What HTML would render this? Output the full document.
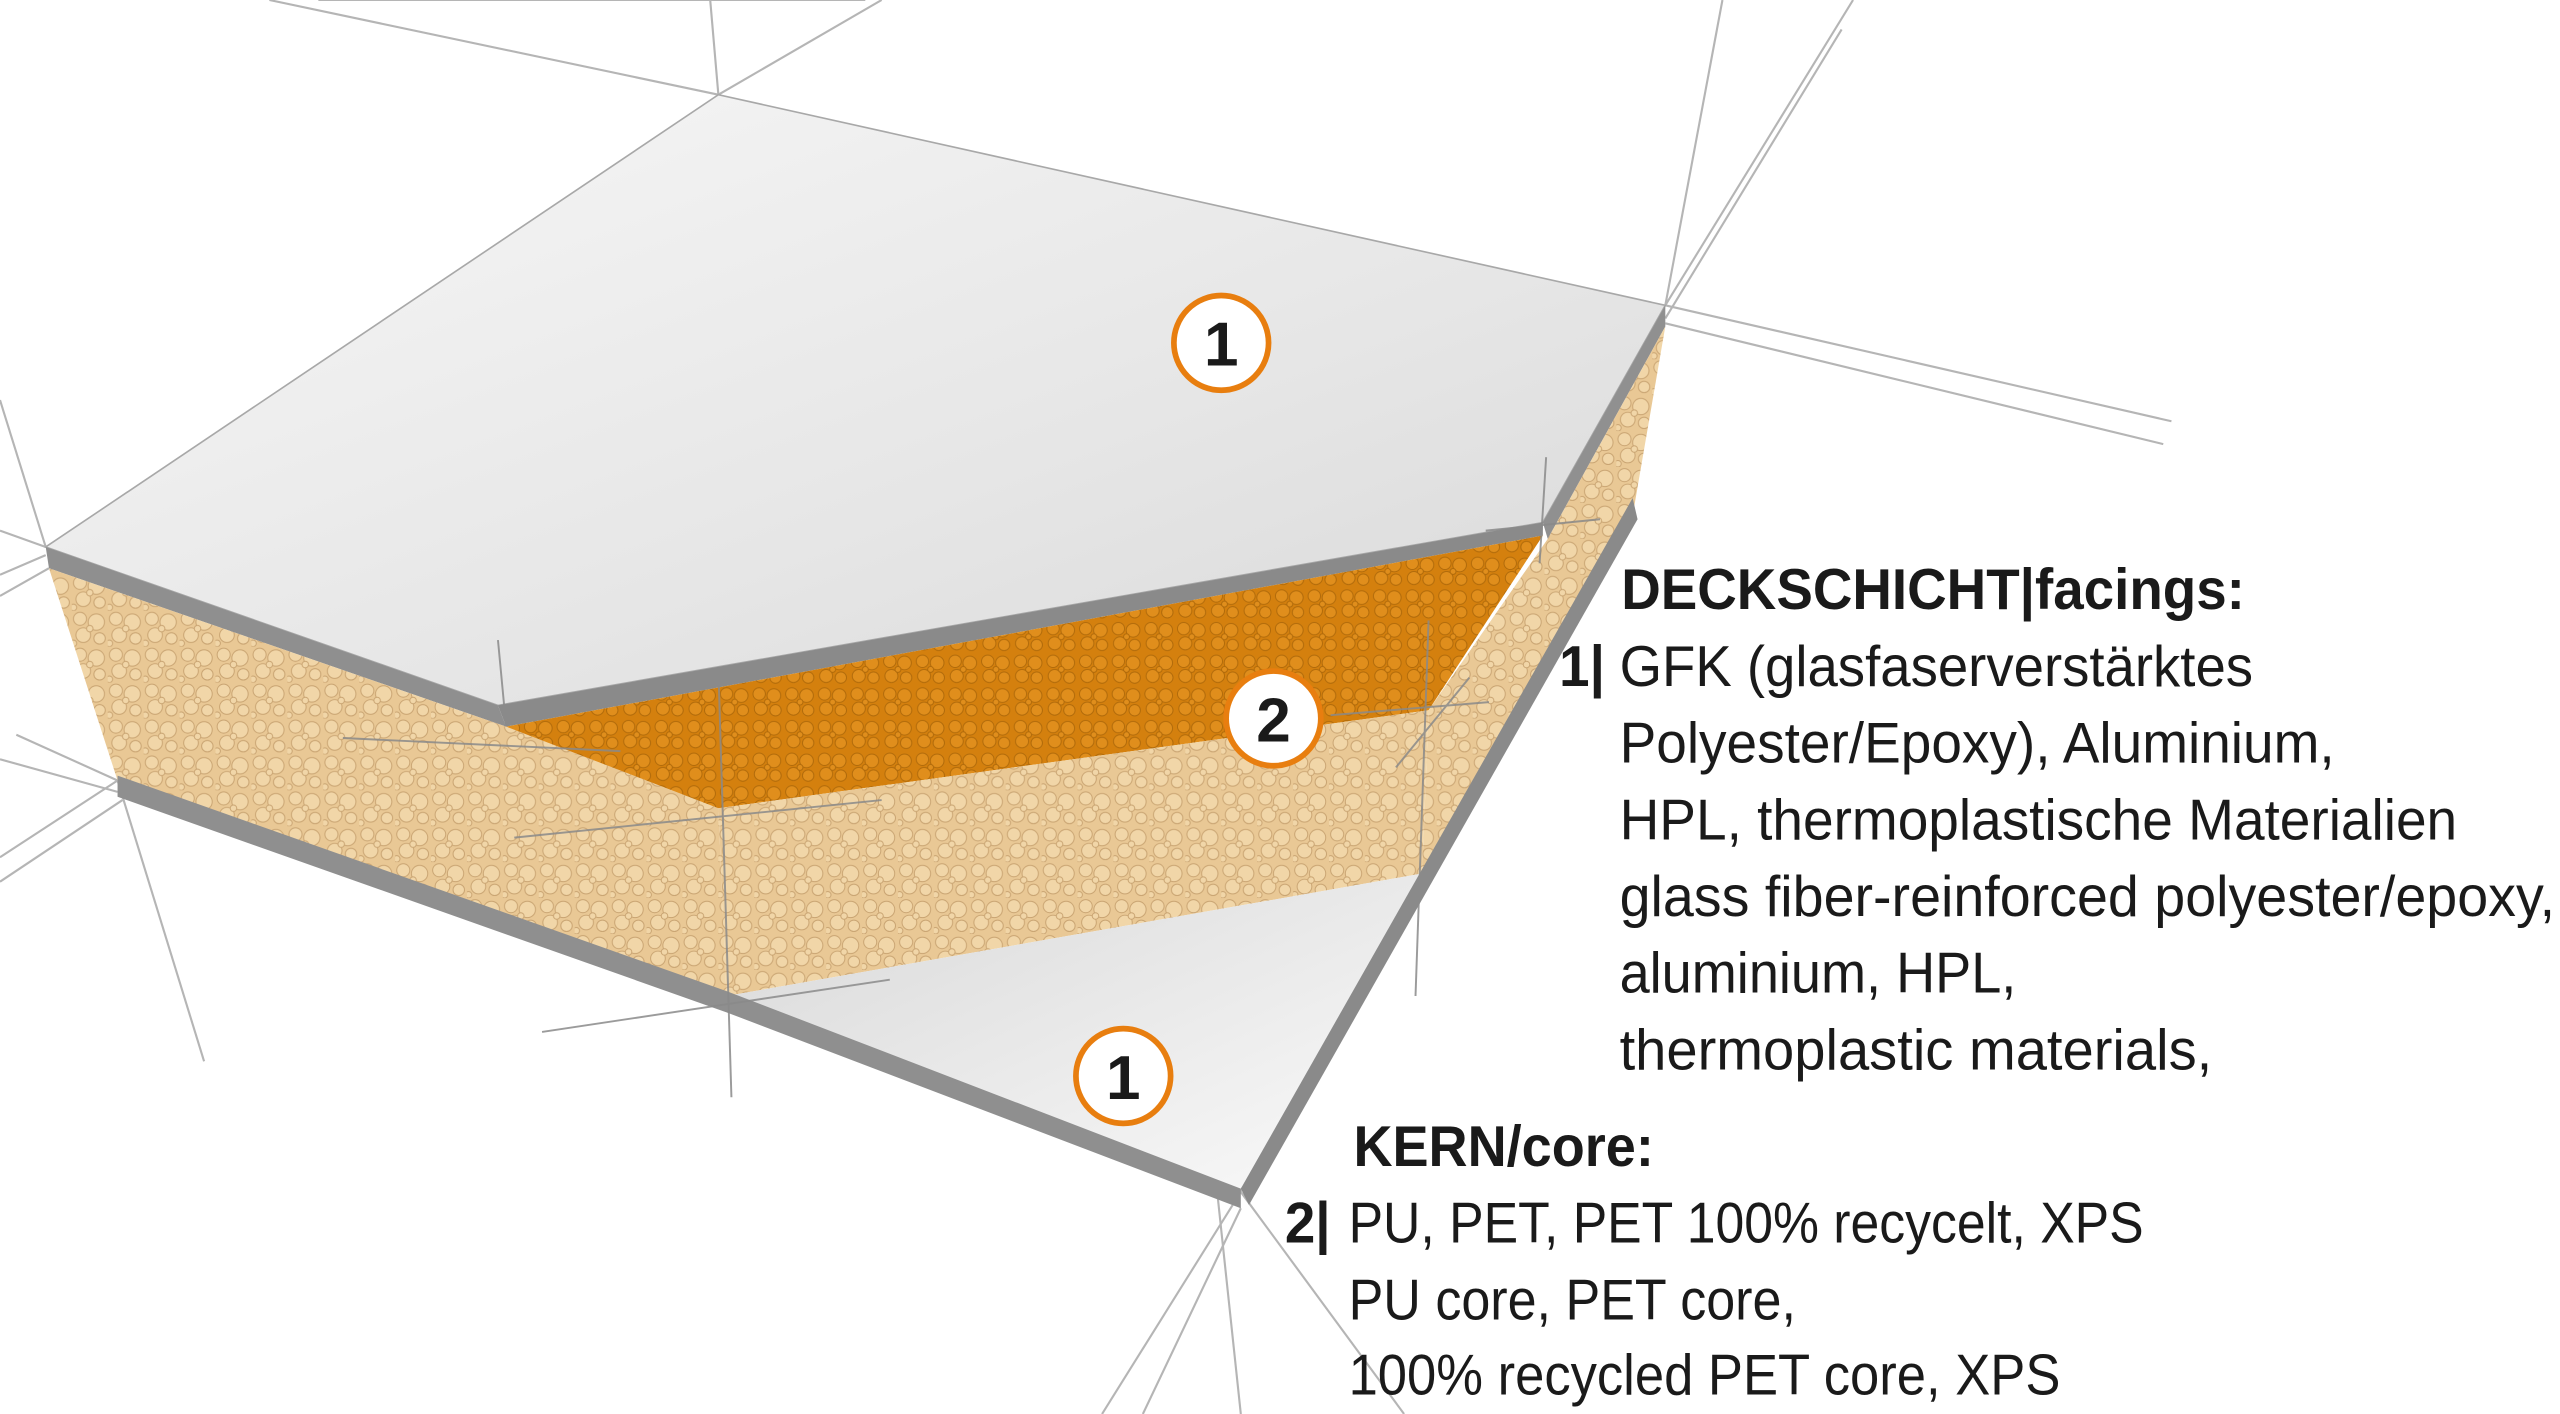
<!DOCTYPE html>
<html><head><meta charset="utf-8">
<style>
html,body{margin:0;padding:0;background:#fff;}
svg{display:block;}
.t{font-family:"Liberation Sans Narrow","Liberation Sans",sans-serif;fill:#1a1a1a;}
</style></head>
<body>
<svg width="2560" height="1414" viewBox="0 0 1568 866" preserveAspectRatio="none" xmlns="http://www.w3.org/2000/svg">
<defs>
<linearGradient id="top" x1="0" y1="0" x2="1" y2="1">
<stop offset="0" stop-color="#f8f8f8"/><stop offset="0.6" stop-color="#e6e6e6"/><stop offset="1" stop-color="#d8d8d8"/>
</linearGradient>
<linearGradient id="bot" x1="0" y1="0" x2="1" y2="1">
<stop offset="0" stop-color="#d8d8d8"/><stop offset="1" stop-color="#fafafa"/>
</linearGradient>
<pattern id="foam" width="22" height="22" patternUnits="userSpaceOnUse">
<rect width="22" height="22" fill="#e9c895"/>
<g fill="#f1d6a8" stroke="#c9a472" stroke-width="0.6">
<circle cx="5" cy="5" r="4"/><circle cx="15" cy="7" r="5"/><circle cx="7" cy="15" r="4.5"/><circle cx="17" cy="17" r="3.5"/><circle cx="11" cy="11" r="2"/><circle cx="1" cy="20" r="2"/>
</g></pattern>
<pattern id="foamo" width="20" height="20" patternUnits="userSpaceOnUse">
<rect width="20" height="20" fill="#d4800e"/>
<g fill="#e08e1c" stroke="#b06a0a" stroke-width="0.6">
<circle cx="5" cy="5" r="3.8"/><circle cx="14" cy="6" r="4.2"/><circle cx="6" cy="14" r="4"/><circle cx="15" cy="15" r="3.5"/><circle cx="10" cy="10" r="1.8"/>
</g></pattern>
</defs>

<g stroke="#b5b5b5" stroke-width="1.3" fill="none">
<line x1="165" y1="0" x2="440" y2="58"/>
<line x1="195" y1="0" x2="530" y2="0"/>
<line x1="435" y1="0" x2="440" y2="58"/>
<line x1="440" y1="58" x2="540" y2="0"/>
<line x1="1020" y1="187" x2="1055" y2="0"/>
<line x1="1020" y1="187" x2="1135" y2="0"/>
<line x1="1020" y1="195" x2="1128" y2="18"/>
<line x1="1020" y1="187" x2="1330" y2="258"/>
<line x1="1020" y1="198" x2="1325" y2="272"/>
<line x1="0" y1="245" x2="28" y2="335"/>
<line x1="0" y1="325" x2="28" y2="335"/>
<line x1="0" y1="352" x2="28" y2="340"/>
<line x1="0" y1="365" x2="30" y2="348"/>
<line x1="10" y1="450" x2="72" y2="478"/>
<line x1="0" y1="465" x2="72" y2="485"/>
<line x1="0" y1="525" x2="72" y2="478"/>
<line x1="0" y1="540" x2="75" y2="490"/>
<line x1="72" y1="478" x2="125" y2="650"/>
<line x1="760" y1="730" x2="675" y2="866"/>
<line x1="760" y1="740" x2="700" y2="866"/>
<line x1="745" y1="725" x2="760" y2="866"/>
<line x1="760" y1="730" x2="860" y2="866"/>
<line x1="765" y1="588" x2="760" y2="730"/>
</g>

<polygon points="28,335 440,58 1020,187 945,320 305,432" fill="url(#top)" stroke="#a8a8a8" stroke-width="1"/>
<polygon points="28,335 305,432 310,445 30,348" fill="#8f8f8f"/>
<polygon points="305,432 945,320 945,328 310,445" fill="#8a8a8a"/>
<polygon points="1020,187 1020,200 948,330 945,320" fill="#909090"/>

<polygon points="30,348 310,445 440,495 445,610 72,478" fill="url(#foam)"/>
<polygon points="310,445 945,328 875,435 440,495" fill="url(#foamo)"/>
<polygon points="440,495 875,435 871,535 445,610" fill="url(#foam)"/>
<polygon points="1020,200 1001,310 871,536 875,435 948,330" fill="url(#foam)"/>

<polygon points="445,610 871,535 760,728" fill="url(#bot)"/>
<polygon points="72,475 445,607 760,728 760,740 445,620 72,488" fill="#8f8f8f"/>
<polygon points="1000,305 1003,318 765,738 760,728" fill="#8a8a8a"/>

<g stroke="#8a8a8a" stroke-width="1.2" fill="none" opacity="0.85">
<line x1="305" y1="392" x2="310" y2="445"/>
<line x1="210" y1="452" x2="380" y2="460"/>
<line x1="440" y1="410" x2="448" y2="672"/>
<line x1="315" y1="513" x2="540" y2="490"/>
<line x1="332" y1="632" x2="545" y2="600"/>
<line x1="875" y1="380" x2="867" y2="610"/>
<line x1="815" y1="438" x2="912" y2="430"/>
<line x1="855" y1="470" x2="900" y2="415"/>
<line x1="947" y1="280" x2="943" y2="345"/>
<line x1="910" y1="325" x2="980" y2="318"/>
</g>

<g>
<circle cx="748" cy="210" r="29" fill="#fff" stroke="#e87e0f" stroke-width="3.5"/>
<text x="748" y="224" text-anchor="middle" class="t" font-size="38" font-weight="bold">1</text>
<circle cx="780" cy="440" r="29" fill="#fff" stroke="#e87e0f" stroke-width="3.5"/>
<text x="780" y="454" text-anchor="middle" class="t" font-size="38" font-weight="bold">2</text>
<circle cx="688" cy="659" r="29" fill="#fff" stroke="#e87e0f" stroke-width="3.5"/>
<text x="688" y="673" text-anchor="middle" class="t" font-size="38" font-weight="bold">1</text>
</g>

<g class="t" font-size="35">
<text x="993" y="373" font-weight="bold" textLength="382" lengthAdjust="spacingAndGlyphs">DECKSCHICHT|facings:</text>
<text x="955" y="420" font-weight="bold" textLength="28" lengthAdjust="spacingAndGlyphs">1|</text>
<text x="992" y="420" textLength="388" lengthAdjust="spacingAndGlyphs">GFK (glasfaserverstärktes</text>
<text x="992" y="467" textLength="438" lengthAdjust="spacingAndGlyphs">Polyester/Epoxy), Aluminium,</text>
<text x="992" y="514" textLength="513" lengthAdjust="spacingAndGlyphs">HPL, thermoplastische Materialien</text>
<text x="992" y="561" textLength="573" lengthAdjust="spacingAndGlyphs">glass fiber-reinforced polyester/epoxy,</text>
<text x="992" y="608" textLength="243" lengthAdjust="spacingAndGlyphs">aluminium, HPL,</text>
<text x="992" y="655" textLength="363" lengthAdjust="spacingAndGlyphs">thermoplastic materials,</text>
<text x="829" y="714" font-weight="bold" textLength="184" lengthAdjust="spacingAndGlyphs">KERN/core:</text>
<text x="787" y="761" font-weight="bold" textLength="28" lengthAdjust="spacingAndGlyphs">2|</text>
<text x="826" y="761" textLength="487" lengthAdjust="spacingAndGlyphs">PU, PET, PET 100% recycelt, XPS</text>
<text x="826" y="808" textLength="274" lengthAdjust="spacingAndGlyphs">PU core, PET core,</text>
<text x="826" y="854" textLength="436" lengthAdjust="spacingAndGlyphs">100% recycled PET core, XPS</text>
</g>
</svg>
</body></html>
